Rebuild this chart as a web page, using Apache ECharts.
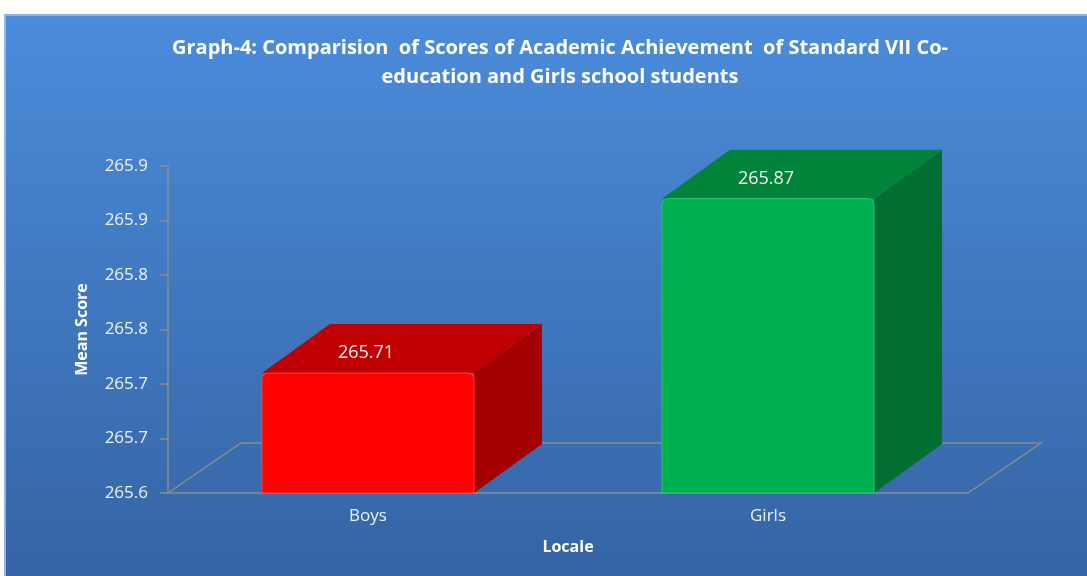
<!DOCTYPE html>
<html>
<head>
<meta charset="utf-8">
<script src="https://cdn.jsdelivr.net/npm/echarts@6/dist/echarts.min.js"></script>
<style>
html,body{margin:0;padding:0;background:#fff;}
#main{width:1087px;height:576px;}
</style>
</head>
<body>
<div id="main"></div>
<script>
var categories=['Boys','Girls'];
var meanScores=[265.71,265.87];
var yMin=265.6, yMax=265.9, yStep=0.05;

var faceColors=[
    {front:'#ff0000',top:'#c00000',side:'#a50000',edge:'#ff4040'},
    {front:'#00b050',top:'#00843a',side:'#006f30',edge:'#20c868'}
];
var DX=68, DY=-49;

var chart=echarts.init(document.getElementById('main'));

function renderBar(params,api){
    var idx=api.value(0);
    var top=api.coord([idx,api.value(1)]);
    var base=api.coord([idx,yMin]);
    var w=api.size([1,0])[0]*0.53;
    var x0=top[0]-w/2, x1=top[0]+w/2, yt=top[1], yb=base[1];
    var c=faceColors[params.dataIndex];
    return {
        type:'group',
        children:[
            {type:'polygon',shape:{points:[[x1,yt],[x1+DX,yt+DY],[x1+DX,yb+DY],[x1,yb]]},style:{fill:c.side}},
            {type:'polygon',shape:{points:[[x0,yt],[x0+DX,yt+DY],[x1+DX,yt+DY],[x1,yt]]},style:{fill:c.top}},
            {type:'rect',shape:{x:x0,y:yt,width:w,height:yb-yt,r:[6,6,0,0]},style:{fill:c.front,stroke:c.edge,lineWidth:1}},
            {type:'text',x:top[0]-2,y:yt-20,style:{text:api.value(1).toFixed(2),fill:'#f2f2f2',font:'18px "Open Sans"',align:'center',verticalAlign:'middle'}}
        ]
    };
}

function renderFloor(params,api){
    var r=params.coordSys;
    var xl=r.x, xr=r.x+r.width, yb=r.y+r.height;
    var fdx=73, fdy=-50;
    return {
        type:'polyline',
        shape:{points:[[xl,yb],[xl+fdx,yb+fdy],[xr+fdx,yb+fdy],[xr,yb]]},
        style:{stroke:'#8c8c8c',lineWidth:1.5,fill:null},
        z2:-1
    };
}

var option={
    backgroundColor:'#ffffff',
    graphic:[{
        type:'rect',left:4,top:14,shape:{width:1083,height:562},z:-10,
        style:{
            fill:new echarts.graphic.LinearGradient(0,0,0,1,[{offset:0,color:'#4b8cdb'},{offset:1,color:'#3564a4'}]),
            stroke:'#8fb6e6',lineWidth:2
        }
    }],
    title:{
        text:'Graph-4: Comparision  of Scores of Academic Achievement  of Standard VII Co-\neducation and Girls school students',
        left:555,top:29,textAlign:'center',
        textStyle:{color:'#ffffff',fontSize:20,fontWeight:'bold',fontFamily:'"Open Sans"',lineHeight:29}
    },
    grid:{left:168,right:119,top:166,bottom:83},
    xAxis:{
        type:'category',
        data:categories,
        name:'Locale',
        nameLocation:'middle',
        nameGap:46,
        nameTextStyle:{color:'#ffffff',fontSize:16,fontWeight:'bold',fontFamily:'"Open Sans"'},
        axisLine:{lineStyle:{color:'#8c8c8c',width:1.5}},
        axisTick:{show:false},
        axisLabel:{color:'#eef2f8',fontSize:17,margin:15,fontFamily:'"Open Sans"'}
    },
    yAxis:{
        type:'value',
        min:yMin,max:yMax,interval:yStep,
        name:'Mean Score',
        nameLocation:'middle',
        nameRotate:90,
        nameGap:78,
        nameTextStyle:{color:'#ffffff',fontSize:16,fontWeight:'bold',fontFamily:'"Open Sans"'},
        axisLine:{show:true,lineStyle:{color:'#8c8c8c',width:1.5}},
        axisTick:{show:true,inside:false,length:8,lineStyle:{color:'#8c8c8c',width:1.5}},
        splitLine:{show:false},
        axisLabel:{color:'#eef2f8',fontSize:17,margin:20,fontFamily:'"Open Sans"',
            formatter:function(v){return (v+1e-9).toFixed(1);}}
    },
    series:[
        {type:'custom',renderItem:renderFloor,data:[0],silent:true,z:1},
        {type:'custom',renderItem:renderBar,
         data:categories.map(function(c,i){return [i,meanScores[i]];}),
         encode:{x:0,y:1},z:2}
    ]
};
chart.setOption(option);
</script>
</body>
</html>
